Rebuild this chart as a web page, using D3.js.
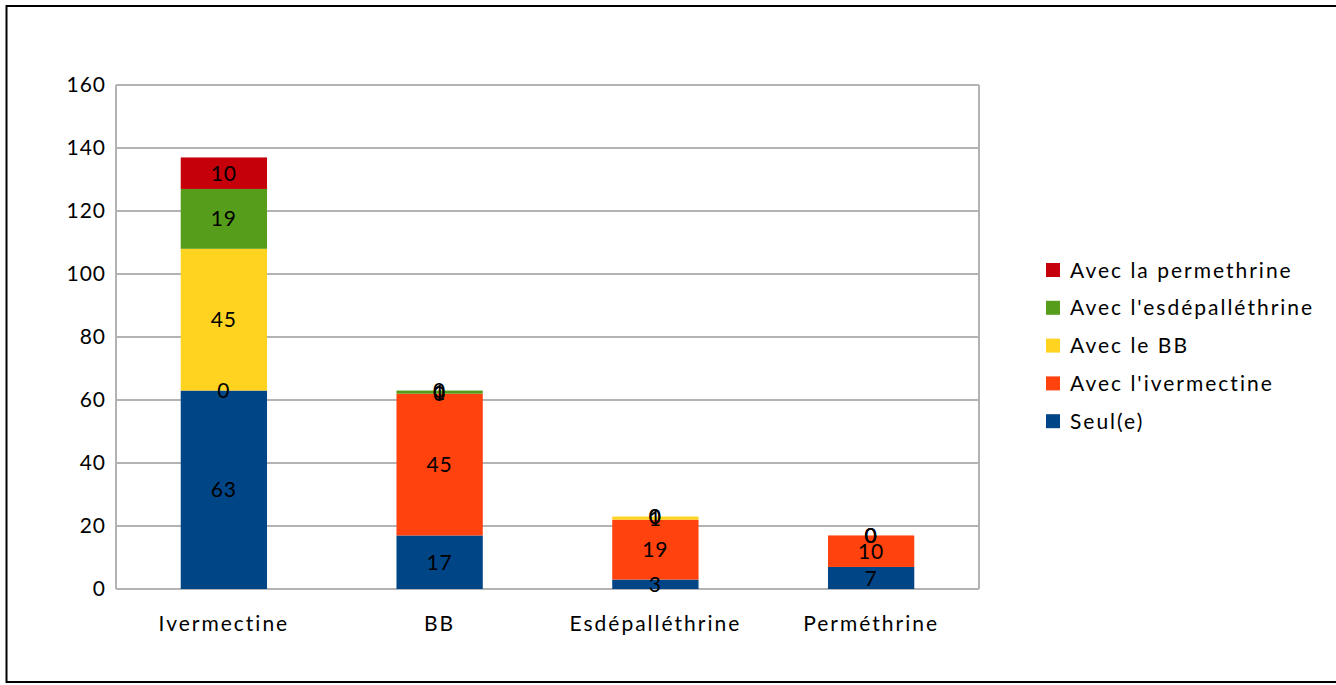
<!DOCTYPE html>
<html>
<head>
<meta charset="utf-8">
<script src="https://cdn.jsdelivr.net/npm/d3@7"></script>
<style>
  body { margin: 0; background: #fff; }
  text { font-family: Lato, 'Open Sans', sans-serif; fill: #000; }
</style>
</head>
<body>
<div id="chart"></div>
<script>
const categories = ['Ivermectine', 'BB', 'Esdépalléthrine', 'Perméthrine'];
const seriesNames = ['Seul(e)', "Avec l'ivermectine", 'Avec le BB', "Avec l'esdépalléthrine", 'Avec la permethrine'];
const seul = [63, 17, 3, 7];
const avecIvermectine = [0, 45, 19, 10];
const avecBB = [45, 0, 1, 0];
const avecEsd = [19, 1, 0, 0];
const avecPerm = [10, 0, 0, 0];
const yTicks = [0, 20, 40, 60, 80, 100, 120, 140, 160];
const colors = ['#004586', '#ff420e', '#ffd320', '#579d1c', '#c5000b'];

const width = 1336;
const height = 685;
const plot = { left: 116, top: 85, right: 979, bottom: 589 };

const svg = d3.select('#chart')
  .append('svg')
  .attr('width', width)
  .attr('height', height);

// outer frame
svg.append('rect')
  .attr('x', 6.5).attr('y', 6)
  .attr('width', 1340).attr('height', 676)
  .attr('fill', 'none')
  .attr('stroke', '#000')
  .attr('stroke-width', 2);

let x = d3.scaleBand().domain(categories).range([plot.left, plot.right]).paddingInner(0.6).paddingOuter(0.3);
let y = d3.scaleLinear().domain([0, 160]).range([plot.bottom, plot.top]);
let color = d3.scaleOrdinal().domain(seriesNames).range(colors);

// build table for stack
let table = categories.map((c, i) => ({
  cat: c,
  'Seul(e)': seul[i],
  "Avec l'ivermectine": avecIvermectine[i],
  'Avec le BB': avecBB[i],
  "Avec l'esdépalléthrine": avecEsd[i],
  'Avec la permethrine': avecPerm[i]
}));
let stacked = d3.stack().keys(seriesNames)(table);

// gridlines
svg.append('g')
  .selectAll('line')
  .data(yTicks)
  .enter()
  .append('line')
  .attr('x1', plot.left).attr('x2', plot.right)
  .attr('y1', d => y(d)).attr('y2', d => y(d))
  .attr('stroke', '#b3b3b3')
  .attr('stroke-width', 2);

svg.append('line')
  .attr('x1', plot.left).attr('x2', plot.left)
  .attr('y1', plot.top).attr('y2', plot.bottom)
  .attr('stroke', '#b3b3b3').attr('stroke-width', 2);
svg.append('line')
  .attr('x1', plot.right).attr('x2', plot.right)
  .attr('y1', plot.top).attr('y2', plot.bottom)
  .attr('stroke', '#b3b3b3').attr('stroke-width', 2);

// bars
svg.append('g')
  .selectAll('g')
  .data(stacked)
  .enter()
  .append('g')
  .attr('fill', s => color(s.key))
  .selectAll('rect')
  .data(s => s)
  .enter()
  .append('rect')
  .attr('x', d => x(d.data.cat))
  .attr('y', d => y(d[1]))
  .attr('width', x.bandwidth())
  .attr('height', d => y(d[0]) - y(d[1]));

// value labels (zero segments overlap, as in the original)
stacked.forEach(s => {
  svg.append('g')
    .selectAll('text')
    .data(s)
    .enter()
    .append('text')
    .attr('x', d => x(d.data.cat) + x.bandwidth() / 2)
    .attr('y', d => y((d[0] + d[1]) / 2))
    .attr('dy', '0.36em')
    .attr('text-anchor', 'middle')
    .style('font-size', '21px')
    .style('letter-spacing', '1px')
    .text(d => d[1] - d[0]);
});

// y axis labels
let yAxis = svg.append('g')
  .attr('transform', `translate(${plot.left}, 0)`)
  .call(d3.axisLeft(y).tickValues(yTicks).tickSize(0).tickPadding(10));
yAxis.select('.domain').remove();
yAxis.selectAll('text')
  .style('font-size', '21px')
  .style('letter-spacing', '1px')
  .style('font-family', 'Lato, sans-serif');

// x axis labels
let xAxis = svg.append('g')
  .attr('transform', `translate(0, ${plot.bottom})`)
  .call(d3.axisBottom(x).tickSize(0).tickPadding(27));
xAxis.select('.domain').remove();
xAxis.selectAll('text')
  .style('font-size', '21px')
  .style('letter-spacing', '2px')
  .style('font-family', 'Lato, sans-serif');

// legend
let legendOrder = seriesNames.slice().reverse();
let legend = svg.append('g').attr('transform', 'translate(1046, 270)');
legendOrder.forEach((name, i) => {
  let item = legend.append('g').attr('transform', `translate(0, ${i * 37.8})`);
  item.append('rect')
    .attr('x', 0).attr('y', -7)
    .attr('width', 14).attr('height', 14)
    .attr('fill', color(name));
  item.append('text')
    .attr('x', 24)
    .attr('dy', '0.36em')
    .style('font-size', '21px')
    .style('letter-spacing', '2px')
    .text(name);
});
</script>
</body>
</html>
